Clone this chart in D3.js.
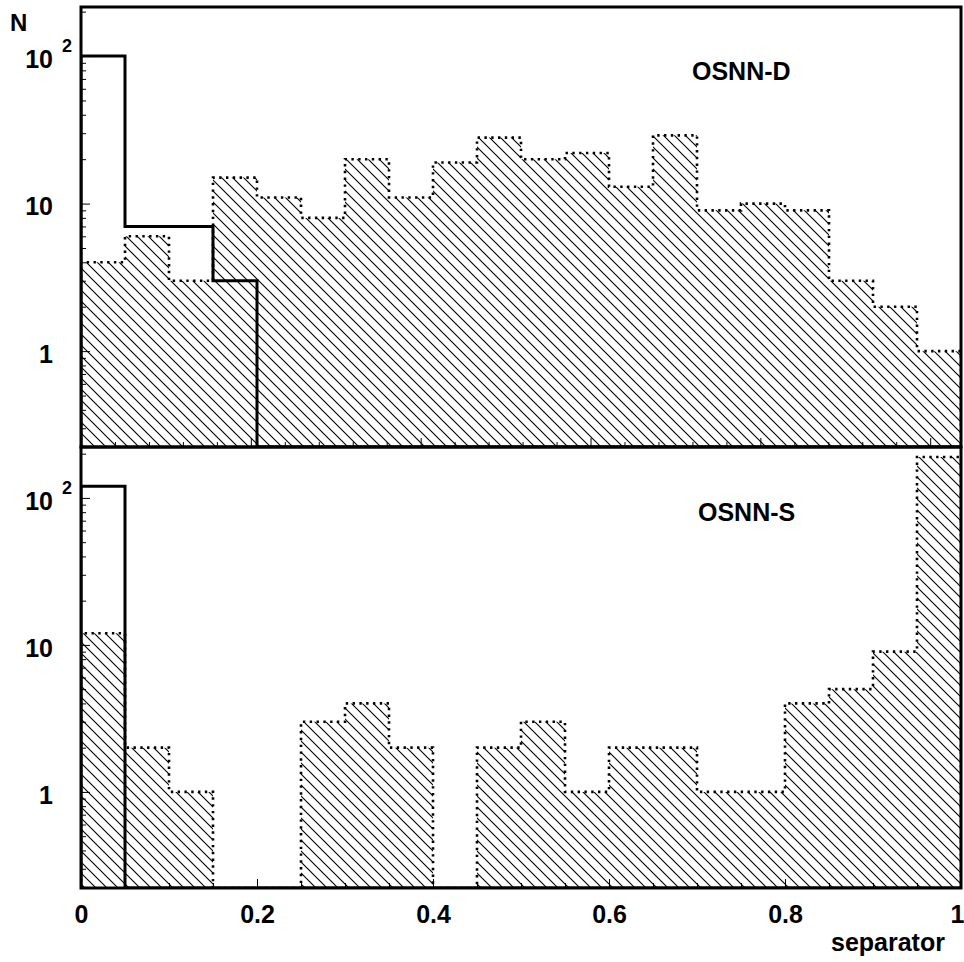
<!DOCTYPE html>
<html lang="en">
<head>
<meta charset="UTF-8">
<title>OSNN separator</title>
<style>
  body { margin: 0; background: #fff; }
  svg text { font-family: "Liberation Sans", Arial, Helvetica, sans-serif; font-weight: bold; fill: #000; }
</style>
</head>
<body>
<div id="chart"></div>
<script src="https://cdn.jsdelivr.net/npm/d3@7/dist/d3.min.js"></script>
<script>
// 20 bins of 0.05 on [0, 1]
const binCount = 20;

// OSNN-D panel
const topHatched = [4, 6, 3, 15, 11, 8, 20, 11, 19, 28, 20, 22, 13, 29, 9, 10, 9, 3, 2, 1];
const topSolid   = [100, 7, 7, 3, 0, 0, 0, 0, 0, 0, 0, 0, 0, 0, 0, 0, 0, 0, 0, 0];

// OSNN-S panel
const botHatched = [12, 2, 1, 0, 0, 3, 4, 2, 0, 2, 3, 1, 2, 2, 1, 1, 4, 5, 9, 190];
const botSolid   = [120, 0, 0, 0, 0, 0, 0, 0, 0, 0, 0, 0, 0, 0, 0, 0, 0, 0, 0, 0];

const yMajorTicks = [1, 10, 100];
const yMinorTicks = [0.3, 0.4, 0.5, 0.6, 0.7, 0.8, 0.9, 2, 3, 4, 5, 6, 7, 8, 9,
                     20, 30, 40, 50, 60, 70, 80, 90, 200];
const xLabelTicks = [0, 0.2, 0.4, 0.6, 0.8, 1];

const width = 964;
const height = 962;

const svg = d3.select("#chart")
    .append("svg")
        .attr("width", width)
        .attr("height", height);

const x = d3.scaleLinear().domain([0, 1]).range([81, 961]);

const defs = svg.append("defs");
defs.append("pattern")
    .attr("id", "hatch")
    .attr("patternUnits", "userSpaceOnUse")
    .attr("width", 11)
    .attr("height", 11)
  .append("path")
    .attr("d", "M0,0L11,11M-1,10L1,12M10,-1L12,1")
    .attr("stroke", "#000")
    .attr("stroke-width", 1.1);

const panels = [
    { id: "d", label: "OSNN-D", hatched: topHatched, solid: topSolid,
      yDomain: [0.224, 215], top: 7, bottom: 447, labelX: 692, labelY: 80,
      xMinor: d3.range(26).map(k => k * 0.0386), majorEvery: 5, showX: false },
    { id: "s", label: "OSNN-S", hatched: botHatched, solid: botSolid,
      yDomain: [0.222, 222], top: 447, bottom: 888, labelX: 698, labelY: 521,
      xMinor: d3.range(21).map(k => k * 0.05), majorEvery: 4, showX: true }
];

function stepPoints(vals) {
    const pts = [[0, 0]];
    vals.forEach((v, i) => pts.push([i / binCount, v]));
    pts.push([1, vals[vals.length - 1]], [1, 0]);
    return pts;
}

panels.forEach(p => {
    const y = d3.scaleLog().domain(p.yDomain).range([p.bottom, p.top]);
    const g = svg.append("g");

    defs.append("clipPath").attr("id", "clip-" + p.id)
      .append("rect")
        .attr("x", x(0)).attr("y", p.top)
        .attr("width", x(1) - x(0)).attr("height", p.bottom - p.top);

    const line = d3.line()
        .x(d => x(d[0]))
        .y(d => d[1] > 0 ? y(d[1]) : p.bottom)
        .curve(d3.curveStepAfter);

    const plot = g.append("g").attr("clip-path", `url(#clip-${p.id})`);

    // hatched histogram
    plot.append("path")
        .attr("d", line(stepPoints(p.hatched)) + "Z")
        .attr("fill", "url(#hatch)")
        .attr("stroke", "none");
    plot.append("path")
        .attr("d", line(stepPoints(p.hatched)))
        .attr("fill", "none")
        .attr("stroke", "#000")
        .attr("stroke-width", 2.6)
        .attr("stroke-dasharray", "2.4 4.4");

    // solid histogram
    plot.append("path")
        .attr("d", line(stepPoints(p.solid)))
        .attr("fill", "none")
        .attr("stroke", "#000")
        .attr("stroke-width", 3);

    // y axis (ticks inside)
    const yMinor = g.append("g")
        .attr("transform", `translate(${x(0)},0)`)
        .call(d3.axisLeft(y).tickValues(yMinorTicks.filter(v => v > p.yDomain[0] && v < p.yDomain[1]))
            .tickSizeInner(-5).tickSizeOuter(0).tickFormat(""));
    yMinor.select(".domain").remove();

    const yAxis = g.append("g")
        .attr("transform", `translate(${x(0)},0)`)
        .call(d3.axisLeft(y).tickValues(yMajorTicks)
            .tickSizeInner(-9).tickSizeOuter(0).tickPadding(28)
            .tickFormat(d => d === 100 ? "10" : String(d)));
    yAxis.attr("font-size", 25).attr("font-family", null);
    yAxis.select(".domain").remove();
    yAxis.selectAll("text").attr("dy", "0.45em");

    // exponent of the 10^2 label
    g.append("text")
        .attr("x", 62)
        .attr("y", y(100) - 4)
        .attr("font-size", 18)
        .text("2");

    // x axis (ticks inside)
    const xMinor = g.append("g")
        .attr("transform", `translate(0,${p.bottom})`)
        .call(d3.axisBottom(x).tickValues(p.xMinor.filter((v, k) => k % p.majorEvery !== 0))
            .tickSizeInner(-5).tickSizeOuter(0).tickFormat(""));
    xMinor.select(".domain").remove();

    const xMajor = g.append("g")
        .attr("transform", `translate(0,${p.bottom})`)
        .call(d3.axisBottom(x)
            .tickValues(p.showX ? xLabelTicks : p.xMinor.filter((v, k) => k % p.majorEvery === 0))
            .tickSizeInner(-9).tickSizeOuter(0).tickPadding(17)
            .tickFormat(p.showX ? d3.format("") : ""));
    xMajor.attr("font-size", 25).attr("font-family", null);
    xMajor.select(".domain").remove();
    // keep the last label inside the window
    xMajor.selectAll("text").filter(d => d === 1).attr("text-anchor", "end").attr("x", 3);

    // frame
    g.append("rect")
        .attr("x", x(0)).attr("y", p.top)
        .attr("width", x(1) - x(0)).attr("height", p.bottom - p.top)
        .attr("fill", "none")
        .attr("stroke", "#000")
        .attr("stroke-width", 3);

    g.append("text")
        .attr("x", p.labelX)
        .attr("y", p.labelY)
        .attr("font-size", 25)
        .text(p.label);
});

svg.append("text")
    .attr("x", 10)
    .attr("y", 31)
    .attr("font-size", 24)
    .text("N");

svg.append("text")
    .attr("x", 831)
    .attr("y", 951)
    .attr("font-size", 25)
    .text("separator");
</script>
</body>
</html>
